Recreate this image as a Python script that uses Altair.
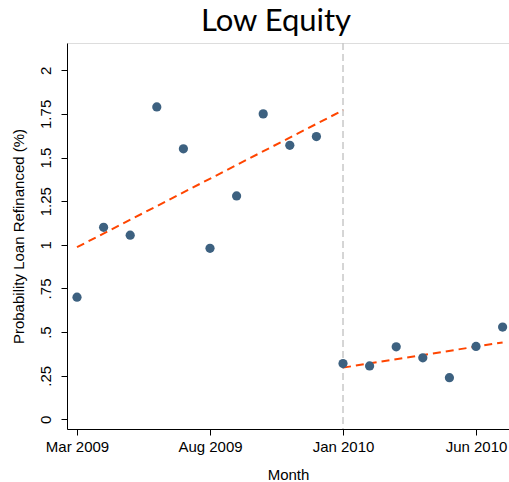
import altair as alt
import pandas as pd

# Monthly refinance probability (%), Mar 2009 - Jul 2010
months = ["Mar 2009", "Apr 2009", "May 2009", "Jun 2009", "Jul 2009", "Aug 2009",
          "Sep 2009", "Oct 2009", "Nov 2009", "Dec 2009", "Jan 2010", "Feb 2010",
          "Mar 2010", "Apr 2010", "May 2010", "Jun 2010", "Jul 2010"]
refi_prob = [0.70, 1.10, 1.055, 1.79, 1.55, 0.98, 1.28, 1.75, 1.57, 1.62,
             0.32, 0.306, 0.416, 0.353, 0.239, 0.418, 0.529]

cutoff_label = "Jan 2010"
x_tick_labels = ["Mar 2009", "Aug 2009", "Jan 2010", "Jun 2010"]
y_tick_values = [0, 0.25, 0.5, 0.75, 1, 1.25, 1.5, 1.75, 2]
y_tick_labels = ["0", ".25", ".5", ".75", "1", "1.25", "1.5", "1.75", "2"]

df = pd.DataFrame({
    "t": list(range(len(months))),
    "month": months,
    "prob": refi_prob,
})
cutoff = months.index(cutoff_label)

x_tick_values = [months.index(m) for m in x_tick_labels]
x_label_expr = " : ".join(
    f"datum.value == {v} ? '{l}'" for v, l in zip(x_tick_values, x_tick_labels)
) + " : ''"
y_label_expr = " : ".join(
    f"datum.value == {v} ? '{l}'" for v, l in zip(y_tick_values, y_tick_labels)
) + " : ''"

FONT = "Liberation Sans"

x_scale = alt.Scale(domain=[-0.376, 16.24], nice=False, zero=False)
y_scale = alt.Scale(domain=[-0.055, 2.156], nice=False, zero=False)

x_axis = alt.Axis(
    title="Month", values=x_tick_values, labelExpr=x_label_expr,
    grid=False, domainColor="black", tickColor="black", tickSize=6,
    labelFont=FONT, labelFontSize=15, labelColor="black", labelPadding=4,
    titleFont=FONT, titleFontSize=15, titleFontWeight="normal", titleColor="black",
    titlePadding=13,
)
y_axis = alt.Axis(
    title="Probability Loan Refinanced (%)", values=y_tick_values,
    labelExpr=y_label_expr, labelAngle=270, labelAlign="center",
    labelBaseline="bottom", grid=False, domainColor="black", tickColor="black",
    tickSize=6, labelFont=FONT, labelFontSize=15, labelColor="black",
    labelPadding=8, titleFont=FONT, titleFontSize=15, titleFontWeight="normal",
    titleColor="black", titlePadding=12,
)

base = alt.Chart(df)

points = base.mark_circle(size=85, opacity=1, color="#3d6180").encode(
    x=alt.X("t:Q", scale=x_scale, axis=x_axis),
    y=alt.Y("prob:Q", scale=y_scale, axis=y_axis),
)

# Linear fits on each side of the cutoff month
fit_pre = base.transform_filter(f"datum.t < {cutoff}").transform_regression(
    "t", "prob", extent=[0, cutoff]
).mark_line(color="#ff4500", strokeWidth=2, strokeDash=[8, 5]).encode(
    x=alt.X("t:Q", scale=x_scale), y=alt.Y("prob:Q", scale=y_scale)
)

fit_post = base.transform_filter(f"datum.t >= {cutoff}").transform_regression(
    "t", "prob", extent=[cutoff, len(months) - 1]
).mark_line(color="#ff4500", strokeWidth=2, strokeDash=[8, 5]).encode(
    x=alt.X("t:Q", scale=x_scale), y=alt.Y("prob:Q", scale=y_scale)
)

cutoff_rule = alt.Chart(pd.DataFrame({"t": [cutoff]})).mark_rule(
    color="#c8c8c8", strokeWidth=1.5, strokeDash=[7, 4]
).encode(x=alt.X("t:Q", scale=x_scale))

chart = alt.layer(cutoff_rule, fit_pre, fit_post, points).properties(
    width=442, height=386,
    title=alt.TitleParams("Low Equity", font="Lato", fontSize=31,
                          fontWeight="normal", color="black", anchor="middle",
                          offset=4, dx=-12),
    padding={"left": 67, "top": 43, "right": 0, "bottom": 53},
    autosize=alt.AutoSizeParams(type="none"),
).configure_view(stroke=None).configure(background="white")

chart.save("out.html", embed_options={"renderer": "svg", "actions": False})
